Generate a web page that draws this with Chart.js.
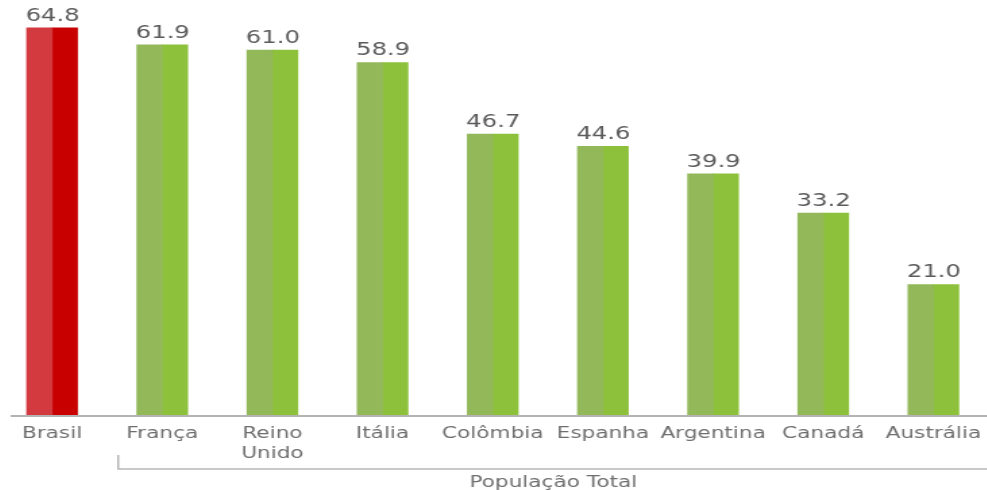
<!DOCTYPE html>
<html>
<head>
<meta charset="utf-8">
<script src="https://cdn.jsdelivr.net/npm/chart.js@4"></script>
<style>
    html, body { margin: 0; padding: 0; background: #fff; overflow: hidden; }
    body { width: 987px; height: 490px; position: relative; }
    /* the reference is stretched sideways, so draw narrow and scale the box */
    #wrap {
        position: absolute; left: -3px; top: 0;
        width: 737px; height: 490px;
        transform: scaleX(1.35); transform-origin: 0 0;
    }
</style>
</head>
<body>
<div id="wrap"><canvas id="chart"></canvas></div>
<script>
const countries = ['Brasil', 'França', ['Reino', 'Unido'], 'Itália', 'Colômbia', 'Espanha', 'Argentina', 'Canadá', 'Austrália'];
const values = [64.8, 61.9, 61.0, 58.9, 46.7, 44.6, 39.9, 33.2, 21.0];
const groupLabel = 'População Total';

const Y_MIN = -1.3;
const Y_MAX = 69.5;
const FONT = "'DejaVu Sans', Verdana, sans-serif";

const lightColors = values.map((v, i) => i === 0 ? '#d23a3f' : '#93b85a');
const darkColors = values.map((v, i) => i === 0 ? '#c80000' : '#8dc13b');

// value labels over each bar, centred on the pair
const valueLabels = {
    id: 'valueLabels',
    afterDatasetsDraw(chart) {
        const ctx = chart.ctx;
        const meta = chart.getDatasetMeta(0);
        ctx.save();
        ctx.font = '18px ' + FONT;
        ctx.fillStyle = '#5a5a5a';
        ctx.textAlign = 'center';
        ctx.textBaseline = 'alphabetic';
        meta.data.forEach((bar, i) => {
            const { x, y, width } = bar.getProps(['x', 'y', 'width'], true);
            ctx.fillText(values[i].toFixed(1), x + width / 2, y - 7);
        });
        ctx.restore();
    }
};

// baseline and the bracket for the group label
const axisDecor = {
    id: 'axisDecor',
    afterDraw(chart) {
        const ctx = chart.ctx;
        const xs = chart.scales.x;
        const area = chart.chartArea;
        ctx.save();
        ctx.strokeStyle = '#b4b4b4';
        ctx.lineWidth = 2;
        ctx.beginPath();
        ctx.moveTo(area.left + 10, area.bottom + 1);
        ctx.lineTo(area.right, area.bottom + 1);
        ctx.stroke();

        const bx = xs.getPixelForValue(0.6);
        ctx.strokeStyle = '#b8b8b8';
        ctx.lineWidth = 1.5;
        ctx.beginPath();
        ctx.moveTo(bx, 455);
        ctx.lineTo(bx, 469);
        ctx.lineTo(area.right, 469);
        ctx.stroke();

        ctx.font = '16px ' + FONT;
        ctx.fillStyle = '#6e6e6e';
        ctx.textAlign = 'center';
        ctx.textBaseline = 'alphabetic';
        ctx.fillText(groupLabel, (bx + area.right) / 2, 487);
        ctx.restore();
    }
};

new Chart(document.getElementById('chart'), {
    type: 'bar',
    data: {
        labels: countries,
        datasets: [{
            data: values,
            backgroundColor: lightColors,
            base: Y_MIN,
            borderWidth: 0,
            inflateAmount: 0
        }, {
            data: values,
            backgroundColor: darkColors,
            base: Y_MIN,
            borderWidth: 0,
            inflateAmount: 0
        }]
    },
    options: {
        responsive: true,
        maintainAspectRatio: false,
        animation: false,
        categoryPercentage: 0.46,
        // a touch over 1 so the two halves overlap and leave no seam
        barPercentage: 1.04,
        layout: { padding: 0 },
        plugins: {
            legend: { display: false },
            tooltip: { enabled: false }
        },
        scales: {
            x: {
                grid: { display: false, drawTicks: false },
                border: { display: false },
                ticks: {
                    color: '#6e6e6e',
                    font: { family: FONT, size: 16, lineHeight: 1.3 },
                    padding: 8,
                    maxRotation: 0,
                    autoSkip: false
                },
                afterFit(axis) { axis.height = 75; }
            },
            y: {
                display: false,
                min: Y_MIN,
                max: Y_MAX
            }
        }
    },
    plugins: [valueLabels, axisDecor]
});
</script>
</body>
</html>
